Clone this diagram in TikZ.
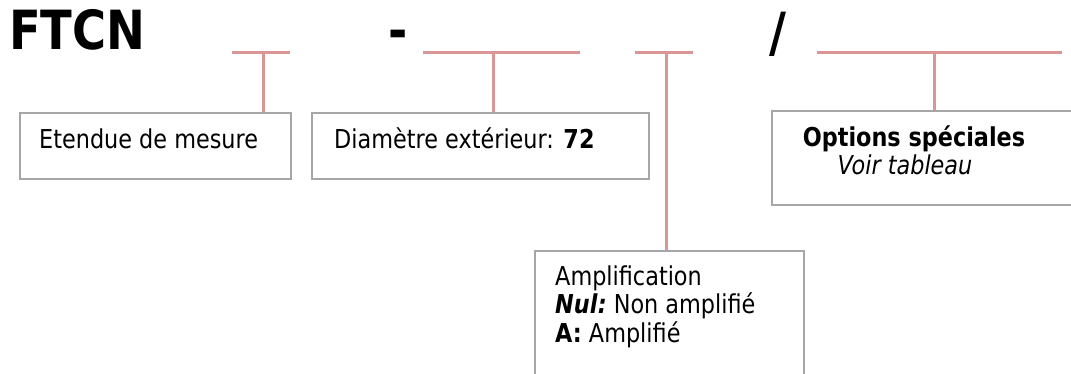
\documentclass[tikz,border=0pt]{standalone}
\usepackage{fontspec}
\setmainfont{DejaVu Sans}[FakeStretch=0.86]
\definecolor{pinkln}{HTML}{D99694}
\definecolor{boxgray}{HTML}{A6A6A6}
\tikzset{
  bar/.style={draw=pinkln, line width=3pt},
  box/.style={draw=boxgray, line width=2pt, rectangle, inner sep=0pt, anchor=north west},
  lbl/.style={inner sep=0pt, font=\fontsize{26}{28}\selectfont},
  big/.style={inner sep=0pt, font=\fontsize{54}{60}\selectfont\bfseries}
}
\begin{document}
\begin{tikzpicture}[x=1pt,y=-1pt]
\useasboundingbox (0,0) rectangle (1071,374);
\clip (0,0) rectangle (1071,374);
% title parts
\node[big, anchor=base west] (ftcn) at (9,50) {FTCN};
\node[big, anchor=base] (dash) at (398,50) {-};
\node[big, anchor=base] (slash) at (778,52) {/};
% bars
\coordinate (a1) at (232,53); \coordinate (a2) at (290,53); \coordinate (am) at (263,53);
\coordinate (b1) at (423,53); \coordinate (b2) at (580,53); \coordinate (bm) at (493,53);
\coordinate (c1) at (635,53); \coordinate (c2) at (693,53); \coordinate (cm) at (666,53);
\coordinate (d1) at (817,53); \coordinate (d2) at (1062,53); \coordinate (dm) at (934,53);
% boxes
\node[box, minimum width=271, minimum height=66] (box1) at (19,112) {};
\node[box, minimum width=337, minimum height=66] (box2) at (311,112) {};
\node[box, minimum width=320, minimum height=94] (box3) at (771,110) {};
\node[box, minimum width=269, minimum height=140] (box4) at (534,250) {};
% connectors
\draw[bar] (a1) -- (a2); \draw[bar] (am) -- (am |- box1.north);
\draw[bar] (b1) -- (b2); \draw[bar] (bm) -- (bm |- box2.north);
\draw[bar] (c1) -- (c2); \draw[bar] (cm) -- (cm |- box4.north);
\draw[bar] (d1) -- (d2); \draw[bar] (dm) -- (dm |- box3.north);
% texts
\node[lbl, anchor=base west] (t1) at (39,149) {Etendue de mesure};
\node[lbl, anchor=base west] (t2) at (334,149) {Diamètre extérieur: \textbf{72}};
\node[lbl, anchor=base] (t3a) at (914,147) {\textbf{Options spéciales}};
\node[lbl, anchor=base] (t3b) at (905,175) {\itshape Voir tableau};
\node[lbl, anchor=base west] (t4a) at (555,285) {Amplification};
\node[lbl, anchor=base west] (t4b) at (555,313) {\textbf{\itshape Nul\/:}~Non amplifié};
\node[lbl, anchor=base west] (t4c) at (555,342) {\textbf{A:} Amplifié};
\end{tikzpicture}
\end{document}
